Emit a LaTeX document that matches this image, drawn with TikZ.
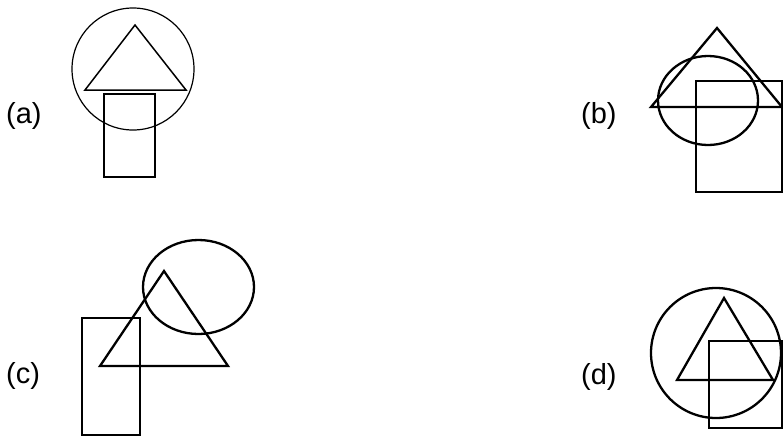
\documentclass[tikz,border=0pt]{standalone}
\usepackage{fontspec}
\setmainfont{Liberation Sans}
\usepackage{tikz}
\usetikzlibrary{positioning}

\begin{document}
\begin{tikzpicture}[
    x=1pt, y=-1pt,
    font=\fontsize{29}{32}\selectfont,
    lbl/.style={anchor=west, inner sep=0pt},
    fine/.style={draw, line width=1.5pt},
    bold/.style={draw, line width=2.3pt}
]
\useasboundingbox (0,0) rectangle (783,437);

% --- (a): circle round the triangle, box below ---
\node[lbl] (lbla) at (6,116) {(a)};
\draw[line width=1.2pt] (133,69) circle[radius=61];
\draw[fine] (135,25) -- (85,90) -- (186,90) -- cycle;
\draw[fine] (104,94) rectangle (155,177);

% --- (b): ellipse and box cutting the triangle ---
\node[lbl] (lblb) at (581,116) {(b)};
\draw[bold] (717,28) -- (651,107) -- (782,107) -- cycle;
\draw[bold] (708,100.5) ellipse[x radius=50, y radius=44.5];
\draw[bold] (696,81) rectangle (782,192);

% --- (c): tall box, triangle, ellipse on top ---
\node[lbl] (lblc) at (6,376) {(c)};
\draw[bold] (198.5,287) ellipse[x radius=55.5, y radius=47];
\draw[bold] (164,271) -- (100,366) -- (228,366) -- cycle;
\draw[bold] (82,318) rectangle (140,435);

% --- (d): circle round triangle and box ---
\node[lbl] (lbld) at (581,377) {(d)};
\draw[bold] (716,353) circle[radius=65];
\draw[bold] (724,298) -- (677,380) -- (773,380) -- cycle;
\draw[bold] (709,341) rectangle (782,428);

\end{tikzpicture}
\end{document}
